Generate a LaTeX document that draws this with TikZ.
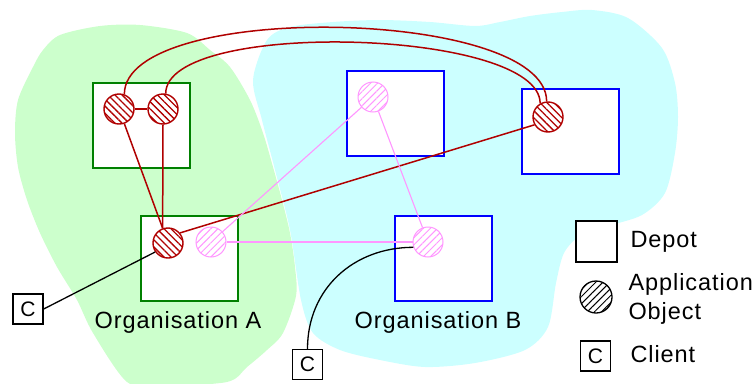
\documentclass[tikz,border=0pt]{standalone}
\usepackage{fontspec}
\setmainfont{Liberation Sans}[LetterSpace=4]
\usetikzlibrary{positioning, patterns.meta}

\definecolor{orgA}{RGB}{204,255,204}
\definecolor{orgB}{RGB}{204,255,255}
\definecolor{depA}{RGB}{0,128,0}
\definecolor{depB}{RGB}{0,0,255}
\definecolor{objred}{RGB}{176,0,0}
\definecolor{objpink}{RGB}{255,150,255}

\tikzset{
  depot/.style={rectangle, draw=#1, fill=white, line width=2pt, inner sep=0pt,
    minimum width=97pt, minimum height=85pt},
  appobj/.style={circle, draw=#1, line width=1.4pt, inner sep=0pt, minimum size=30pt,
    preaction={fill=white},
    pattern={Lines[angle=-45,distance=5pt,line width=1.3pt]}, pattern color=#1},
  appobjB/.style={circle, draw=#1, line width=1pt, inner sep=0pt, minimum size=30pt,
    preaction={fill=white},
    pattern={Lines[angle=45,distance=5pt,line width=1pt]}, pattern color=#1},
  client/.style={rectangle, draw, fill=white, line width=1.4pt, inner sep=0pt,
    minimum size=30pt, font=\fontsize{21}{24}\selectfont},
  label/.style={font=\fontsize{23.5}{28}\selectfont},
  redlink/.style={draw=objred, line width=1.5pt},
  pinklink/.style={draw=objpink, line width=1.1pt},
  clientlink/.style={draw=black, line width=1.3pt}
}

\begin{document}
\begin{tikzpicture}[x=1pt,y=-1pt]
\useasboundingbox (0,0) rectangle (755,383);

% the two organisations
\fill[orgB] plot[smooth cycle] coordinates {(253,80) (267,40) (290,27) (333,22) (380,20)
  (430,22) (475,26) (500,22) (530,16) (562,12) (592,10) (628,18) (662,48) (675,83)
  (678,117) (675,153) (665,193) (642,215) (608,226) (580,236) (564,253) (556,283)
  (548,327) (525,350) (475,363) (425,367) (380,360) (340,350) (313,333) (301,300)
  (290,230) (275,170) (262,120)};
\fill[orgA] plot[smooth cycle] coordinates {(43,50) (60,35) (100,26) (140,25) (187,33)
  (210,50) (230,67) (250,100) (263,133) (273,167) (282,200) (290,233) (295,267)
  (296,296) (283,333) (267,350) (247,367) (227,382) (160,386) (127,382) (93,333)
  (77,300) (57,267) (40,233) (27,200) (18,167) (15,133) (18,100) (33,67)};

% depots
\node[depot=depA] (dA1) at (141.5,125) {};
\node[depot=depA] (dA2) at (189,258.5) {};
\node[depot=depB] (dB1) at (395,113) {};
\node[depot=depB] (dB2) at (570,131) {};
\node[depot=depB] (dB3) at (443,258.5) {};

% application objects
\foreach \name/\pos in {o1/{119,109}, o2/{163,109}, o4/{548,117}, o5/{168,243}}
  \node[appobj=objred] (\name) at (\pos) {};
\foreach \name/\pos in {o6/{211,242}, o7/{373,97}, o8/{428,242}}
  \node[appobjB=objpink] (\name) at (\pos) {};

% clients
\node[client] (ca) at (28,309) {C};
\node[client] (cb) at (307.5,364.5) {C};

% links between objects
\draw[redlink] (o1) -- (o2);
\draw[redlink] (o1.290) -- (o5.110);
\draw[redlink] (o2.south) -- (o5.110);
\draw[redlink] (o5.40) -- (o4.210);
\draw[redlink] (o1.70) .. controls +(0,-94) and +(0,-94) .. (o4.95);
\draw[redlink] (o2.80) .. controls +(0,-75) and +(0,-75) .. (o4.120);
\draw[pinklink] (o6) -- (o7);
\draw[pinklink] (o7) -- (o8);
\draw[pinklink] (o6) -- (o8);
\draw[clientlink] (ca.east) -- (o5.215);
\draw[clientlink] (cb.north) .. controls +(0,-60) and +(-60,0) .. (o8.200);

% organisation names
\node[label, anchor=base] (nameA) at (178,328) {Organisation A};
\node[label, anchor=base] (nameB) at (438,328) {Organisation B};

% key
\node[depot=black, line width=1.4pt, minimum width=41pt, minimum height=41pt] (keyDepot) at (596.5,241.5) {};
\node[label, anchor=base west] (keyDepotTxt) at (627,247) {Depot};
\node[appobjB=black, minimum size=32pt, line width=1.3pt] (keyObj) at (596,297) {};
\node[label, anchor=base west] (keyObjTxt) at (625,290) {Application};
\node[label, anchor=base west] (keyObjTxt2) at (625,319) {Object};
\node[client, minimum size=30pt] (keyClient) at (595.5,356) {C};
\node[label, anchor=base west] (keyClientTxt) at (627,362) {Client};
\end{tikzpicture}
\end{document}
